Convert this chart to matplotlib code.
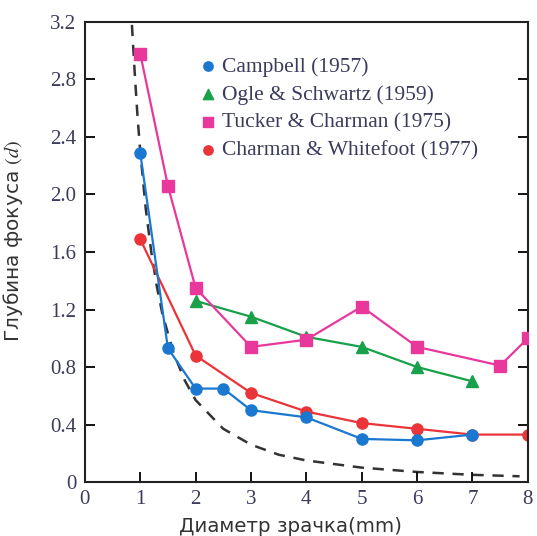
import matplotlib
matplotlib.use('Agg')
from matplotlib import pyplot as plt

# данные
campbell_x = [1, 1.5, 2, 2.5, 3, 4, 5, 6, 7]
campbell_y = [2.29, 0.93, 0.65, 0.65, 0.50, 0.45, 0.30, 0.29, 0.33]

ogle_x = [2, 3, 4, 5, 6, 7]
ogle_y = [1.26, 1.15, 1.01, 0.94, 0.80, 0.70]

tucker_x = [1, 1.5, 2, 3, 4, 5, 6, 7.5, 8]
tucker_y = [2.98, 2.06, 1.35, 0.94, 0.99, 1.22, 0.94, 0.81, 1.00]

charman_x = [1, 2, 3, 4, 5, 6, 7, 8]
charman_y = [1.69, 0.88, 0.62, 0.49, 0.41, 0.37, 0.33, 0.33]

# штриховая кривая
theory_x = [0.85, 0.9, 0.95, 1.0, 1.1, 1.2, 1.3, 1.4, 1.6, 1.8, 2.0, 2.5, 3.0, 3.5, 4.0, 5.0, 6.0, 7.0, 7.85]
theory_y = [3.18, 2.85, 2.55, 2.30, 1.90, 1.60, 1.36, 1.17, 0.90, 0.71, 0.57, 0.37, 0.26, 0.19, 0.15, 0.10, 0.07, 0.05, 0.04]

labels = ['Campbell (1957)', 'Ogle & Schwartz (1959)',
          'Tucker & Charman (1975)', 'Charman & Whitefoot (1977)']
x_ticks = [0, 1, 2, 3, 4, 5, 6, 7, 8]
y_ticks = [0, 0.4, 0.8, 1.2, 1.6, 2.0, 2.4, 2.8, 3.2]
y_ticklabels = ['0', '0.4', '0.8', '1.2', '1.6', '2.0', '2.4', '2.8', '3.2']

blue = '#1a78d0'
green = '#19a04a'
pink = '#e8389c'
red = '#ea3439'
text_col = '#3b3b5c'

plt.rcParams['mathtext.fontset'] = 'stix'

fig = plt.figure(figsize=(5.37, 5.36), dpi=100)
ax = fig.add_axes([0.158, 0.1007, 0.825, 0.8583])

ax.plot(theory_x, theory_y, color='#333333', lw=1.8, ls=(0, (4.5, 3.5)), zorder=1)
ax.plot(campbell_x, campbell_y, color=blue, lw=1.6, marker='o', ms=8, zorder=3)
ax.plot(ogle_x, ogle_y, color=green, lw=1.6, marker='^', ms=9, zorder=3)
ax.plot(tucker_x, tucker_y, color=pink, lw=1.6, marker='s', ms=8, zorder=3)
ax.plot(charman_x, charman_y, color=red, lw=1.6, marker='o', ms=8, zorder=2)

# легенда - только маркеры
h1 = ax.scatter([], [], color=blue, marker='o', s=45)
h2 = ax.scatter([], [], color=green, marker='^', s=55)
h3 = ax.scatter([], [], color=pink, marker='s', s=50)
h4 = ax.scatter([], [], color=red, marker='o', s=45)
leg = ax.legend([h1, h2, h3, h4], labels, loc='upper left',
                bbox_to_anchor=(0.2045, 0.966), frameon=False,
                handletextpad=0.05, handlelength=1.2, labelspacing=0.36,
                prop={'family': 'Liberation Serif', 'size': 15.5})
for t in leg.get_texts():
    t.set_color(text_col)

ax.set_xlim(0, 8)
ax.set_ylim(0, 3.2)
ax.set_xticks(x_ticks)
ax.set_yticks(y_ticks)
ax.set_yticklabels(y_ticklabels)
for lab in ax.get_xticklabels() + ax.get_yticklabels():
    lab.set_family('Liberation Serif')
    lab.set_fontsize(15)
    lab.set_color(text_col)
ax.tick_params(direction='in', length=7, width=1.3, right=True, top=False, pad=6)
for sp in ax.spines.values():
    sp.set_linewidth(1.5)
    sp.set_color('#222222')

ax.set_xlabel('Диаметр зрачка(mm)', fontsize=14.3, family='DejaVu Sans', color='#333333')
ax.xaxis.set_label_coords(0.465, -0.075)
ax.set_ylabel('Глубина фокуса $(d)$', fontsize=14.5, family='DejaVu Sans', color='#333333')
ax.yaxis.set_label_coords(-0.135, 0.525)

fig.savefig('out.png', dpi=100)
